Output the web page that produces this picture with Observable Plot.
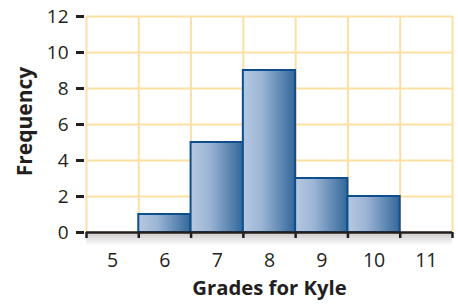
<!DOCTYPE html>
<html><head><meta charset="utf-8">
<script src="https://cdn.jsdelivr.net/npm/d3@7"></script>
<script src="https://cdn.jsdelivr.net/npm/@observablehq/plot@0.6"></script>
<style>
body{margin:0;background:#fff;}
svg{display:block;}
</style></head>
<body><div id="chart"></div>
<script>
const grades = [6, 7, 8, 9, 10];
const frequency = [1, 5, 9, 3, 2];
const xLabels = [5, 6, 7, 8, 9, 10, 11];
const binEdges = [4.5, 5.5, 6.5, 7.5, 8.5, 9.5, 10.5, 11.5];
const yTicks = [0, 2, 4, 6, 8, 10, 12];

const data = grades.map((g, i) => ({grade: g, freq: frequency[i]}));
const font = "'Open Sans', 'Liberation Sans', sans-serif";

const chart = Plot.plot({
  width: 458, height: 308,
  marginLeft: 86, marginRight: 6, marginTop: 16, marginBottom: 76,
  style: {fontFamily: font, background: "#fff", overflow: "visible"},
  x: {type: "linear", domain: [4.5, 11.5]},
  y: {type: "linear", domain: [0, 12]},
  marks: [
    Plot.rect([0], {x1: 4.5, x2: 11.5, y1: 0, y2: -0.75, fill: "url(#shadowGrad)"}),
    Plot.gridX(binEdges, {stroke: "#fddfa3", strokeOpacity: 1, strokeWidth: 2}),
    Plot.gridY(yTicks, {stroke: "#fddfa3", strokeOpacity: 1, strokeWidth: 2}),
    Plot.rect(data, {x1: d => d.grade - 0.5, x2: d => d.grade + 0.5, y1: 0, y2: "freq",
      fill: "url(#barGrad)", stroke: "#0d4f8e", strokeWidth: 2}),
    Plot.ruleY([0], {stroke: "#231f20", strokeWidth: 2.5}),
    Plot.axisX(binEdges, {tickSize: 6, tickFormat: () => "", stroke: "#231f20", strokeWidth: 2.5, label: null}),
    Plot.axisX(xLabels, {tickSize: 0, tickPadding: 21, fontSize: 19.5, fill: "#231f20", label: null}),
    Plot.axisY(yTicks, {tickSize: 8, tickPadding: 8, fontSize: 19, fill: "#231f20", stroke: "#231f20", strokeWidth: 3, label: null, dx: -2}),
    Plot.text(["Grades for Kyle"], {frameAnchor: "bottom", dy: 62, fontSize: 20.3, fontWeight: "bold", fill: "#231f20"}),
    Plot.text(["Frequency"], {frameAnchor: "left", textAnchor: "middle", rotate: -90, dx: -61, dy: -3, fontSize: 21, fontWeight: "bold", fill: "#231f20"})
  ]
});

const svg = d3.select(chart);
const defs = svg.insert("defs", ":first-child");
const g = defs.append("linearGradient").attr("id", "barGrad").attr("x1", "0").attr("x2", "1").attr("y1", "0").attr("y2", "0");
g.append("stop").attr("offset", "0%").attr("stop-color", "#b5c8e0");
g.append("stop").attr("offset", "35%").attr("stop-color", "#9db6d6");
g.append("stop").attr("offset", "100%").attr("stop-color", "#33679a");
const s = defs.append("linearGradient").attr("id", "shadowGrad").attr("x1", "0").attr("x2", "0").attr("y1", "0").attr("y2", "1");
s.append("stop").attr("offset", "0%").attr("stop-color", "#c8c8c8");
s.append("stop").attr("offset", "100%").attr("stop-color", "#ffffff");

document.getElementById("chart").append(chart);
</script>
</body></html>
